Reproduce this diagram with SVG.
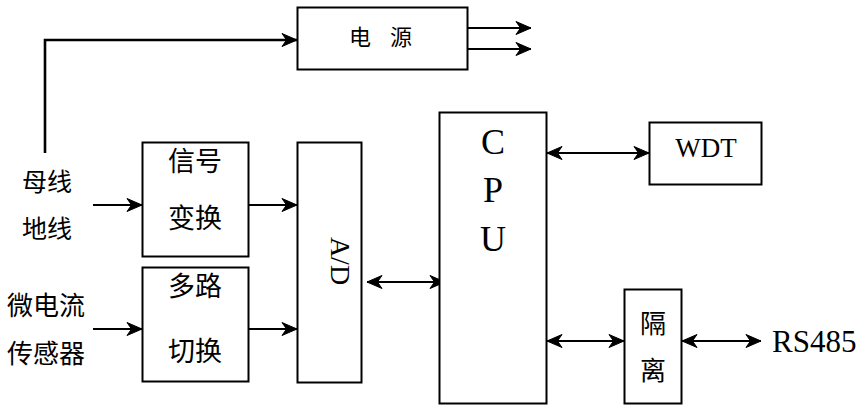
<svg xmlns="http://www.w3.org/2000/svg" width="863" height="405" viewBox="0 0 863 405">
<defs>
<marker id="ah" viewBox="-1 -1 17 15" refX="15" refY="6.5" markerWidth="17" markerHeight="15" markerUnits="userSpaceOnUse" orient="auto-start-reverse">
<path d="M0,0 L15,6.5 L0,13 L4.5,6.5 Z" fill="#000" stroke="#000" stroke-width="1" stroke-linejoin="round"/>
</marker>
<style>
.box{fill:#fff;stroke:#000;stroke-width:2}
.ln{fill:none;stroke:#000;stroke-width:2}
.cjk{font-family:"Noto Sans CJK SC","Liberation Serif",sans-serif;fill:#000}
.lat{font-family:"Liberation Serif",serif;fill:#000}
</style>
</defs>
<rect width="863" height="405" fill="#fff"/>
<g id="connectors">
<path class="ln" d="M45,153 V40 H297" marker-end="url(#ah)" style="stroke-width:2.6"/>
<path class="ln" d="M467,28 H531" marker-end="url(#ah)"/>
<path class="ln" d="M467,49 H531" marker-end="url(#ah)"/>
<path class="ln" d="M93,205 H142" marker-end="url(#ah)"/>
<path class="ln" d="M249,205 H297" marker-end="url(#ah)"/>
<path class="ln" d="M93,329 H142" marker-end="url(#ah)"/>
<path class="ln" d="M249,329 H297" marker-end="url(#ah)"/>
<path class="ln" d="M367,282 H445" marker-start="url(#ah)" marker-end="url(#ah)"/>
<path class="ln" d="M547,153 H649" marker-start="url(#ah)" marker-end="url(#ah)"/>
<path class="ln" d="M547,341 H624" marker-start="url(#ah)" marker-end="url(#ah)"/>
<path class="ln" d="M682,341 H761" marker-start="url(#ah)" marker-end="url(#ah)"/>
</g>
<g id="power">
<rect class="box" x="297.5" y="7.5" width="170" height="62"/>
<text class="cjk" x="360" y="45" font-size="22" text-anchor="middle">电</text>
<text class="cjk" x="401" y="45" font-size="22" text-anchor="middle">源</text>
</g>
<g id="busline-label">
<text class="cjk" x="47" y="191" font-size="25" text-anchor="middle">母线</text>
<text class="cjk" x="47" y="238" font-size="25" text-anchor="middle">地线</text>
</g>
<g id="sensor-label">
<text class="cjk" x="46" y="315" font-size="26" text-anchor="middle">微电流</text>
<text class="cjk" x="46" y="363" font-size="26" text-anchor="middle">传感器</text>
</g>
<g id="signal">
<rect class="box" x="142.5" y="142.5" width="106" height="114"/>
<text class="cjk" x="195" y="171" font-size="27" text-anchor="middle">信号</text>
<text class="cjk" x="195" y="228" font-size="27" text-anchor="middle">变换</text>
</g>
<g id="mux">
<rect class="box" x="142.5" y="267.5" width="106" height="114"/>
<text class="cjk" x="195" y="296" font-size="27" text-anchor="middle">多路</text>
<text class="cjk" x="195" y="361" font-size="27" text-anchor="middle">切换</text>
</g>
<g id="ad">
<rect class="box" x="297.5" y="142.5" width="64" height="240"/>
<text class="lat" transform="translate(331,261) rotate(90)" font-size="28" text-anchor="middle">A/D</text>
</g>
<g id="cpu">
<rect class="box" x="439.5" y="112.5" width="107" height="291"/>
<text class="lat" x="493" y="154" font-size="36" text-anchor="middle">C</text>
<text class="lat" x="493" y="202" font-size="36" text-anchor="middle">P</text>
<text class="lat" x="493" y="251" font-size="36" text-anchor="middle">U</text>
</g>
<g id="wdt">
<rect class="box" x="649.5" y="122.5" width="112" height="62"/>
<text class="lat" x="706" y="157" font-size="27" text-anchor="middle">WDT</text>
</g>
<g id="isolation">
<rect class="box" x="624.5" y="289.5" width="57" height="114"/>
<text class="cjk" x="653" y="333" font-size="26" text-anchor="middle">隔</text>
<text class="cjk" x="653" y="380" font-size="26" text-anchor="middle">离</text>
</g>
<g id="rs485">
<text class="lat" x="772" y="352" font-size="31">RS485</text>
</g>
</svg>
